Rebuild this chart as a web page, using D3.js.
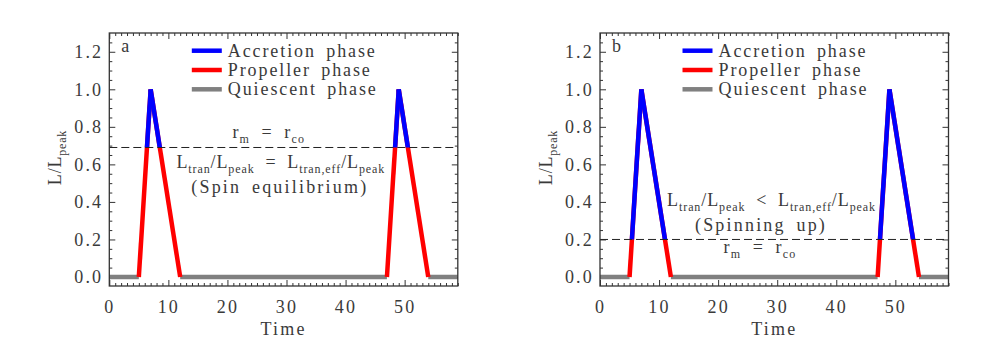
<!DOCTYPE html>
<html>
<head>
<meta charset="utf-8">
<script src="https://cdn.jsdelivr.net/npm/d3@7"></script>
<style>
  html, body { margin: 0; padding: 0; background: #fff; }
  svg text { font-family: "Liberation Serif", "DejaVu Serif", serif; fill: #3a3a3a; }
</style>
</head>
<body>
<svg id="chart" width="981" height="356"></svg>
<script>
// ---- data ----
const panelLabels = ["a", "b"];
const timeA = [0, 5, 7, 12, 47, 49, 54, 59];
const lumA  = [0, 0, 1, 0, 0, 1, 0, 0];
const timeB = [0, 5, 7, 12, 47, 49, 54, 59];
const lumB  = [0, 0, 1, 0, 0, 1, 0, 0];
const thresholds = [0.69, 0.2];
const xTicks = [0, 10, 20, 30, 40, 50];
const yTicks = [0.0, 0.2, 0.4, 0.6, 0.8, 1.0, 1.2];
const legendLabels = ["Accretion phase", "Propeller phase", "Quiescent phase"];
const legendColors = ["#0000ff", "#ff0000", "#808080"];

const svg = d3.select("#chart");
const plotW = 348.5, plotH = 253;
const lefts = [109.3, 600];
const plotTop = 33;
const NB = "\u00a0";

function sub(textSel, parts) {
  // parts: array of [string, isSub]
  parts.forEach(([s, isSub], i) => {
    const t = textSel.append("tspan").text(s);
    if (isSub) { t.attr("font-size", 12).attr("dy", 5); }
    else if (i > 0 && parts[i - 1][1]) { t.attr("dy", -5); }
  });
}

[0, 1].forEach(p => {
  const time = p === 0 ? timeA : timeB;
  const lum = p === 0 ? lumA : lumB;
  const thr = thresholds[p];
  const g = svg.append("g").attr("transform", `translate(${lefts[p]},${plotTop})`);
  const x = d3.scaleLinear().domain([0, 59]).range([0, plotW]);
  const y = d3.scaleLinear().domain([-0.048, 1.3]).range([plotH, 0]);

  const clipId = "clipAbove" + p;
  g.append("clipPath").attr("id", clipId).append("rect")
    .attr("x", -10).attr("y", -10).attr("width", plotW + 20).attr("height", y(thr) + 10);

  // axes: major and minor ticks inward on all sides
  const xMinor = d3.range(0, 60).filter(v => v % 10 !== 0);
  const yMinor = d3.range(1, 26).filter(i => i % 4 !== 0).map(i => i * 0.05);
  const styleAxis = sel => {
    sel.select(".domain").remove();
    sel.selectAll("line").attr("stroke", "#333");
    sel.selectAll("text").attr("font-size", 18).attr("letter-spacing", 2.2).attr("fill", "#3a3a3a")
      .attr("font-family", '"Liberation Serif", serif');
  };
  g.append("g").attr("transform", `translate(0,${plotH})`)
    .call(d3.axisBottom(x).tickValues(xTicks).tickSize(-6).tickPadding(14).tickFormat(d3.format("d"))).call(styleAxis);
  g.append("g").attr("transform", `translate(0,${plotH})`)
    .call(d3.axisBottom(x).tickValues(xMinor).tickSize(-3).tickFormat("")).call(styleAxis);
  g.append("g").call(d3.axisTop(x).tickValues(xTicks).tickSize(-6).tickFormat("")).call(styleAxis);
  g.append("g").call(d3.axisTop(x).tickValues(xMinor).tickSize(-3).tickFormat("")).call(styleAxis);
  g.append("g")
    .call(d3.axisLeft(y).tickValues(yTicks).tickSize(-6).tickPadding(6).tickFormat(d3.format(".1f"))).call(styleAxis);
  g.append("g").call(d3.axisLeft(y).tickValues(yMinor).tickSize(-3).tickFormat("")).call(styleAxis);
  g.append("g").attr("transform", `translate(${plotW},0)`)
    .call(d3.axisRight(y).tickValues(yTicks).tickSize(-6).tickFormat("")).call(styleAxis);
  g.append("g").attr("transform", `translate(${plotW},0)`)
    .call(d3.axisRight(y).tickValues(yMinor).tickSize(-3).tickFormat("")).call(styleAxis);

  // data segments
  const line = d3.line().x(d => x(d[0])).y(d => y(d[1]));
  const segs = d3.pairs(time.map((t, i) => [t, lum[i]]));
  const quiet = segs.filter(([a, b]) => a[1] === 0 && b[1] === 0);
  const active = segs.filter(([a, b]) => !(a[1] === 0 && b[1] === 0));
  g.selectAll(".quiet").data(quiet).join("path").attr("class", "quiet")
    .attr("d", d => line(d)).attr("fill", "none").attr("stroke", legendColors[2]).attr("stroke-width", 4.5);
  g.selectAll(".prop").data(active).join("path").attr("class", "prop")
    .attr("d", d => line(d)).attr("fill", "none").attr("stroke", legendColors[1]).attr("stroke-width", 4.5);
  g.selectAll(".acc").data(active).join("path").attr("class", "acc")
    .attr("clip-path", `url(#${clipId})`)
    .attr("d", d => line(d)).attr("fill", "none").attr("stroke", legendColors[0]).attr("stroke-width", 4.5);

  // threshold dashed line
  g.append("line").attr("x1", 0).attr("x2", plotW).attr("y1", y(thr)).attr("y2", y(thr))
    .attr("stroke", "#222").attr("stroke-width", 1).attr("stroke-dasharray", "8,4");

  // frame
  g.append("rect").attr("x", 0).attr("y", 0).attr("width", plotW).attr("height", plotH)
    .attr("fill", "none").attr("stroke", "#333").attr("stroke-width", 1.3);

  // panel label
  g.append("text").attr("x", 12).attr("y", 18.7).attr("font-size", 18).text(panelLabels[p]);

  // legend
  legendLabels.forEach((lab, i) => {
    const ly = 17.7 + i * 19.3;
    g.append("line").attr("x1", 82.5).attr("x2", 112.5).attr("y1", ly).attr("y2", ly)
      .attr("stroke", legendColors[i]).attr("stroke-width", 4.5);
    g.append("text").attr("x", 118.5).attr("y", ly + 6).attr("font-size", 18)
      .attr("letter-spacing", 1.9).attr("word-spacing", 4).text(lab);
  });

  // axis titles
  g.append("text").attr("x", plotW / 2).attr("y", 302).attr("text-anchor", "middle")
    .attr("font-size", 18).attr("letter-spacing", 2.2).text("Time");
  const yl = g.append("text").attr("transform", `translate(-48,${plotH / 2 - 2}) rotate(-90)`)
    .attr("text-anchor", "middle").attr("font-size", 18).attr("letter-spacing", 0.8);
  sub(yl, [["L/L", false], ["peak", true]]);

  // annotations
  const eqOp = p === 0 ? NB + NB + "=" + NB + NB : NB + NB + "<" + NB + NB;
  const rmY = p === 0 ? 105 : 220;
  const eqY = p === 0 ? 135 : 173;
  const noteY = p === 0 ? 160 : 198;
  const rm = g.append("text").attr("x", p === 0 ? 159.5 : 160).attr("y", rmY)
    .attr("text-anchor", "middle").attr("font-size", 18).attr("letter-spacing", 1.2);
  sub(rm, [["r", false], ["m", true], [NB + NB + "=" + NB + NB + "r", false], ["co", true]]);
  const eq = g.append("text").attr("x", 171.5).attr("y", eqY)
    .attr("text-anchor", "middle").attr("font-size", 18).attr("letter-spacing", 0.9);
  sub(eq, [["L", false], ["tran", true], ["/L", false], ["peak", true], [eqOp + "L", false], ["tran,eff", true], ["/L", false], ["peak", true]]);
  g.append("text").attr("x", p === 0 ? 170.5 : 161).attr("y", noteY)
    .attr("text-anchor", "middle").attr("font-size", 18).attr("letter-spacing", 2.2).attr("word-spacing", 4)
    .text(p === 0 ? "(Spin equilibrium)" : "(Spinning up)");
});
</script>
</body>
</html>
